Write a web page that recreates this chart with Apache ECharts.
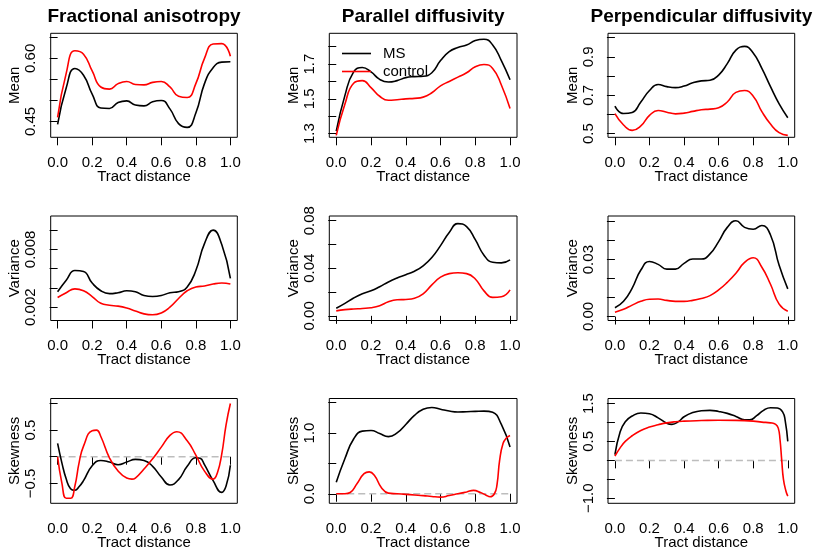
<!doctype html>
<html>
<head>
<meta charset="utf-8">
<title>Tract profiles</title>
<script src="https://cdn.jsdelivr.net/npm/echarts@6/dist/echarts.min.js"></script>
<style>
  html, body { margin: 0; padding: 0; background: #fff; }
  #chart { width: 815px; height: 547px; }
</style>
</head>
<body>
<div id="chart"></div>
<script>
  // columns / rows
  var titles = ['Fractional anisotropy', 'Parallel diffusivity', 'Perpendicular diffusivity'];
  var rowNames = ['Mean', 'Variance', 'Skewness'];
  var xTicks = [0, 0.2, 0.4, 0.6, 0.8, 1.0];

  // [tract distance, value]
  var faMeanMS = [[0,0.443],[0.05,0.53],[0.1,0.576],[0.15,0.56],[0.2,0.515],[0.25,0.482],[0.3,0.481],[0.35,0.495],[0.4,0.499],[0.45,0.489],[0.5,0.487],[0.55,0.497],[0.6,0.5],[0.65,0.48],[0.7,0.445],[0.75,0.436],[0.8,0.47],[0.85,0.54],[0.9,0.578],[0.95,0.591],[1,0.592]];
  var faMeanCtl = [[0,0.46],[0.05,0.565],[0.1,0.618],[0.15,0.61],[0.2,0.57],[0.25,0.532],[0.3,0.527],[0.35,0.54],[0.4,0.545],[0.45,0.538],[0.5,0.537],[0.55,0.543],[0.6,0.545],[0.65,0.532],[0.7,0.51],[0.75,0.507],[0.8,0.54],[0.85,0.6],[0.9,0.634],[0.95,0.635],[1,0.605]];
  var pdMeanMS = [[0,1.315],[0.05,1.52],[0.1,1.655],[0.15,1.68],[0.2,1.655],[0.25,1.612],[0.3,1.597],[0.35,1.605],[0.4,1.622],[0.45,1.628],[0.5,1.63],[0.55,1.65],[0.6,1.72],[0.65,1.772],[0.7,1.795],[0.75,1.81],[0.8,1.835],[0.85,1.843],[0.9,1.81],[0.95,1.72],[1,1.61]];
  var pdMeanCtl = [[0,1.29],[0.05,1.47],[0.1,1.59],[0.15,1.605],[0.2,1.565],[0.25,1.515],[0.3,1.492],[0.35,1.495],[0.4,1.5],[0.45,1.503],[0.5,1.51],[0.55,1.535],[0.6,1.575],[0.65,1.6],[0.7,1.625],[0.75,1.65],[0.8,1.685],[0.85,1.698],[0.9,1.675],[0.95,1.58],[1,1.444]];
  var rdMeanMS = [[0,0.643],[0.05,0.605],[0.1,0.61],[0.15,0.665],[0.2,0.725],[0.25,0.756],[0.3,0.745],[0.35,0.74],[0.4,0.748],[0.45,0.765],[0.5,0.775],[0.55,0.778],[0.6,0.805],[0.65,0.865],[0.7,0.935],[0.75,0.955],[0.8,0.92],[0.85,0.84],[0.9,0.745],[0.95,0.655],[1,0.583]];
  var rdMeanCtl = [[0,0.604],[0.05,0.545],[0.1,0.517],[0.15,0.54],[0.2,0.595],[0.25,0.621],[0.3,0.612],[0.35,0.603],[0.4,0.607],[0.45,0.616],[0.5,0.625],[0.55,0.628],[0.6,0.635],[0.65,0.665],[0.7,0.715],[0.75,0.725],[0.8,0.695],[0.85,0.615],[0.9,0.55],[0.95,0.505],[1,0.491]];

  var faVarMS = [[0,0.0036],[0.05,0.0048],[0.1,0.0058],[0.15,0.0057],[0.2,0.0045],[0.25,0.0037],[0.3,0.0034],[0.35,0.0035],[0.4,0.0037],[0.45,0.0036],[0.5,0.0032],[0.55,0.0031],[0.6,0.0032],[0.65,0.0035],[0.7,0.0036],[0.75,0.0041],[0.8,0.0058],[0.85,0.0086],[0.9,0.01],[0.95,0.0085],[1,0.005]];
  var faVarCtl = [[0,0.003],[0.05,0.0035],[0.1,0.0039],[0.15,0.0037],[0.2,0.0031],[0.25,0.0024],[0.3,0.0022],[0.35,0.0021],[0.4,0.0019],[0.45,0.0016],[0.5,0.0013],[0.55,0.0012],[0.6,0.0014],[0.65,0.002],[0.7,0.0029],[0.75,0.0037],[0.8,0.0041],[0.85,0.0042],[0.9,0.0044],[0.95,0.0045],[1,0.0044]];
  var pdVarMS = [[0,0.0064],[0.05,0.0105],[0.1,0.015],[0.15,0.0185],[0.2,0.021],[0.25,0.0245],[0.3,0.0285],[0.35,0.0318],[0.4,0.0345],[0.45,0.0375],[0.5,0.042],[0.55,0.049],[0.6,0.059],[0.65,0.07],[0.7,0.0775],[0.75,0.075],[0.8,0.064],[0.85,0.051],[0.9,0.045],[0.95,0.0445],[1,0.047]];
  var pdVarCtl = [[0,0.0042],[0.05,0.0052],[0.1,0.0058],[0.15,0.0062],[0.2,0.0068],[0.25,0.0085],[0.3,0.0118],[0.35,0.0135],[0.4,0.0138],[0.45,0.0148],[0.5,0.0185],[0.55,0.026],[0.6,0.0325],[0.65,0.0355],[0.7,0.0362],[0.75,0.0355],[0.8,0.031],[0.85,0.021],[0.9,0.0155],[0.95,0.016],[1,0.0218]];
  var rdVarMS = [[0,0.0046],[0.05,0.008],[0.1,0.015],[0.15,0.0245],[0.2,0.029],[0.25,0.0275],[0.3,0.025],[0.35,0.025],[0.4,0.028],[0.45,0.0303],[0.5,0.0303],[0.55,0.033],[0.6,0.0395],[0.65,0.047],[0.7,0.0505],[0.75,0.047],[0.8,0.046],[0.85,0.048],[0.9,0.043],[0.95,0.027],[1,0.0146]];
  var rdVarCtl = [[0,0.0023],[0.05,0.0038],[0.1,0.006],[0.15,0.008],[0.2,0.0091],[0.25,0.0092],[0.3,0.0085],[0.35,0.008],[0.4,0.008],[0.45,0.0085],[0.5,0.0095],[0.55,0.011],[0.6,0.014],[0.65,0.018],[0.7,0.0228],[0.75,0.0285],[0.8,0.031],[0.85,0.026],[0.9,0.017],[0.95,0.0065],[1,0.0028]];

  var faSkewMS = [[0,0.25],[0.025,-0.12],[0.05,-0.42],[0.075,-0.6],[0.1,-0.63],[0.125,-0.56],[0.15,-0.45],[0.2,-0.17],[0.25,-0.07],[0.3,-0.1],[0.35,-0.15],[0.4,-0.1],[0.45,-0.05],[0.5,-0.07],[0.55,-0.18],[0.6,-0.38],[0.65,-0.53],[0.7,-0.43],[0.75,-0.18],[0.8,-0.02],[0.825,-0.03],[0.85,-0.15],[0.9,-0.45],[0.95,-0.67],[0.975,-0.55],[1,-0.16]];
  var faSkewCtl = [[0,0],[0.025,-0.5],[0.05,-0.78],[0.075,-0.78],[0.1,-0.55],[0.125,-0.1],[0.15,0.2],[0.2,0.49],[0.225,0.5],[0.25,0.38],[0.3,-0.02],[0.35,-0.27],[0.4,-0.4],[0.43,-0.42],[0.45,-0.4],[0.5,-0.23],[0.55,-0.04],[0.6,0.18],[0.65,0.4],[0.69,0.47],[0.75,0.3],[0.8,0.03],[0.85,-0.27],[0.9,-0.42],[0.925,-0.3],[0.95,0.05],[0.975,0.6],[1,1]];
  var pdSkewMS = [[0,0.19],[0.05,0.58],[0.1,0.9],[0.15,1.03],[0.2,1.04],[0.25,0.99],[0.3,0.94],[0.35,1],[0.4,1.14],[0.45,1.29],[0.5,1.39],[0.55,1.42],[0.6,1.39],[0.65,1.36],[0.7,1.345],[0.75,1.35],[0.8,1.355],[0.85,1.36],[0.9,1.34],[0.95,1.14],[1,0.77]];
  var pdSkewCtl = [[0,0],[0.05,0],[0.08,0.02],[0.12,0.17],[0.16,0.33],[0.19,0.36],[0.22,0.3],[0.26,0.1],[0.3,0.01],[0.35,0],[0.4,-0.01],[0.45,-0.02],[0.5,-0.03],[0.55,-0.045],[0.6,-0.055],[0.65,-0.03],[0.7,0],[0.75,0.03],[0.79,0.055],[0.83,0.02],[0.86,-0.02],[0.885,-0.05],[0.91,0],[0.925,0.15],[0.94,0.55],[0.96,0.83],[0.98,0.92],[1,0.96]];
  var rdSkewMS = [[0,0.15],[0.03,0.75],[0.06,1.02],[0.1,1.17],[0.15,1.25],[0.2,1.23],[0.25,1.12],[0.3,0.98],[0.33,0.95],[0.37,1.03],[0.4,1.15],[0.45,1.26],[0.5,1.31],[0.55,1.32],[0.6,1.29],[0.65,1.24],[0.7,1.16],[0.75,1.07],[0.78,1.07],[0.82,1.18],[0.86,1.32],[0.9,1.39],[0.94,1.38],[0.97,1.28],[0.985,1.05],[1,0.5]];
  var rdSkewCtl = [[0,0.11],[0.03,0.33],[0.06,0.5],[0.1,0.65],[0.15,0.79],[0.2,0.88],[0.25,0.94],[0.3,0.99],[0.35,1.02],[0.4,1.035],[0.5,1.05],[0.6,1.06],[0.7,1.055],[0.8,1.035],[0.85,1.01],[0.9,0.99],[0.93,0.95],[0.945,0.85],[0.955,0.55],[0.965,0],[0.975,-0.5],[0.99,-0.82],[1,-0.94]];
  var zeroLine = [[0,0],[1,0]];

  // y axis: limits, tick values, labelled ticks, decimals
  var yMin = [0.4124, 1.279, 0.481, 0.00061, -0.0039, -0.0021, -0.875, -0.157, -1.132];
  var yMax = [0.6596, 1.877, 1.023, 0.01147, 0.0839, 0.053, 1.094, 1.567, 1.632];
  var yTicks = [
    [0.45, 0.5, 0.55, 0.6, 0.65], [1.3, 1.4, 1.5, 1.6, 1.7, 1.8], [0.5, 0.6, 0.7, 0.8, 0.9, 1.0],
    [0.002, 0.004, 0.006, 0.008, 0.01], [0, 0.02, 0.04, 0.06, 0.08], [0, 0.01, 0.02, 0.03, 0.04, 0.05],
    [-0.5, 0, 0.5, 1.0], [0, 0.5, 1.0, 1.5], [-1.0, -0.5, 0, 0.5, 1.0, 1.5]
  ];
  var yLabels = [[0.45, 0.6], [1.3, 1.5, 1.7], [0.5, 0.7, 0.9], [0.002, 0.008], [0, 0.04, 0.08], [0, 0.03], [-0.5, 0.5], [0, 1.0], [-1.0, 0.5, 1.5]];
  var yDecimals = [2, 1, 1, 3, 2, 2, 1, 1, 1];

  var msData = [faMeanMS, pdMeanMS, rdMeanMS, faVarMS, pdVarMS, rdVarMS, faSkewMS, pdSkewMS, rdSkewMS];
  var ctlData = [faMeanCtl, pdMeanCtl, rdMeanCtl, faVarCtl, pdVarCtl, rdVarCtl, faSkewCtl, pdSkewCtl, rdSkewCtl];

  // layout of the plot boxes (pixels)
  var colLeft = [50.7, 329.3, 608];
  var colWidth = [186.6, 187.7, 186.7];
  var rowTop = [33.3, 216, 398.5];
  var rowHeight = [104, 104.5, 104.8];

  var FONT = 'Liberation Sans, Arial, Helvetica, sans-serif';

  var chart = echarts.init(document.getElementById('chart'));
  var grids = [], xAxes = [], yAxes = [], series = [], titleList = [];

  for (var c = 0; c < 3; c++) {
    titleList.push({
      text: titles[c],
      left: colLeft[c] + colWidth[c] / 2,
      top: 7,
      padding: 0,
      textAlign: 'center',
      textStyle: { fontFamily: FONT, fontSize: 19, fontWeight: 'bold', color: '#000' }
    });
  }

  for (var i = 0; i < 9; i++) {
    var r = Math.floor(i / 3), c2 = i % 3;
    var dec = yDecimals[i];
    grids.push({
      left: colLeft[c2], top: rowTop[r], width: colWidth[c2], height: rowHeight[r],
      show: true, borderColor: '#000', borderWidth: 1, backgroundColor: 'transparent',
      containLabel: false, outerBoundsMode: 'none'
    });
    xAxes.push({
      type: 'value', gridIndex: i, min: -0.04, max: 1.04,
      name: 'Tract distance', nameLocation: 'middle', nameGap: 32, nameMoveOverlap: false,
      nameTextStyle: { fontFamily: FONT, fontSize: 15, color: '#000' },
      axisLine: { show: false },
      axisTick: { show: true, length: 8, customValues: xTicks, lineStyle: { color: '#000', width: 1 } },
      axisLabel: { show: true, customValues: xTicks, margin: 18, fontFamily: FONT, fontSize: 15, color: '#000',
        formatter: function (v) { return v.toFixed(1); } },
      splitLine: { show: false }
    });
    yAxes.push({
      type: 'value', gridIndex: i, min: yMin[i], max: yMax[i],
      name: rowNames[r], nameLocation: 'middle', nameGap: 28, nameRotate: 90,
      nameTextStyle: { fontFamily: FONT, fontSize: 15, color: '#000' },
      axisLine: { show: false },
      axisTick: { show: true, length: 8, customValues: yTicks[i], lineStyle: { color: '#000', width: 1 } },
      axisLabel: { show: true, customValues: yLabels[i], rotate: 90, margin: 12, fontFamily: FONT, fontSize: 15, color: '#000',
        formatter: (function (d) { return function (v) { return v.toFixed(d).replace('-', '\u2212'); }; })(dec) },
      splitLine: { show: false }
    });
    if (r === 2) {
      series.push({
        type: 'line', name: 'zero', xAxisIndex: i, yAxisIndex: i, data: zeroLine,
        symbol: 'none', silent: true,
        lineStyle: { color: '#bdbdbd', width: 1.5, type: [7, 4] }
      });
    }
    series.push({
      type: 'line', name: 'MS', xAxisIndex: i, yAxisIndex: i, data: msData[i],
      symbol: 'none', smooth: 0.5, lineStyle: { color: '#000', width: 1.6 }, itemStyle: { color: '#000' }
    });
    series.push({
      type: 'line', name: 'control', xAxisIndex: i, yAxisIndex: i, data: ctlData[i],
      symbol: 'none', smooth: 0.5, lineStyle: { color: '#ff0000', width: 1.6 }, itemStyle: { color: '#ff0000' }
    });
  }

  chart.setOption({
    animation: false,
    backgroundColor: '#fff',
    title: titleList,
    legend: {
      data: [{ name: 'MS', icon: 'rect' }, { name: 'control', icon: 'rect' }],
      orient: 'vertical',
      left: 342, top: 46, padding: 0,
      itemWidth: 29, itemHeight: 1.6, itemGap: 3,
      textStyle: { fontFamily: FONT, fontSize: 15, color: '#000', padding: [0, 0, 0, 7] }
    },
    grid: grids,
    xAxis: xAxes,
    yAxis: yAxes,
    series: series
  });
</script>
</body>
</html>
